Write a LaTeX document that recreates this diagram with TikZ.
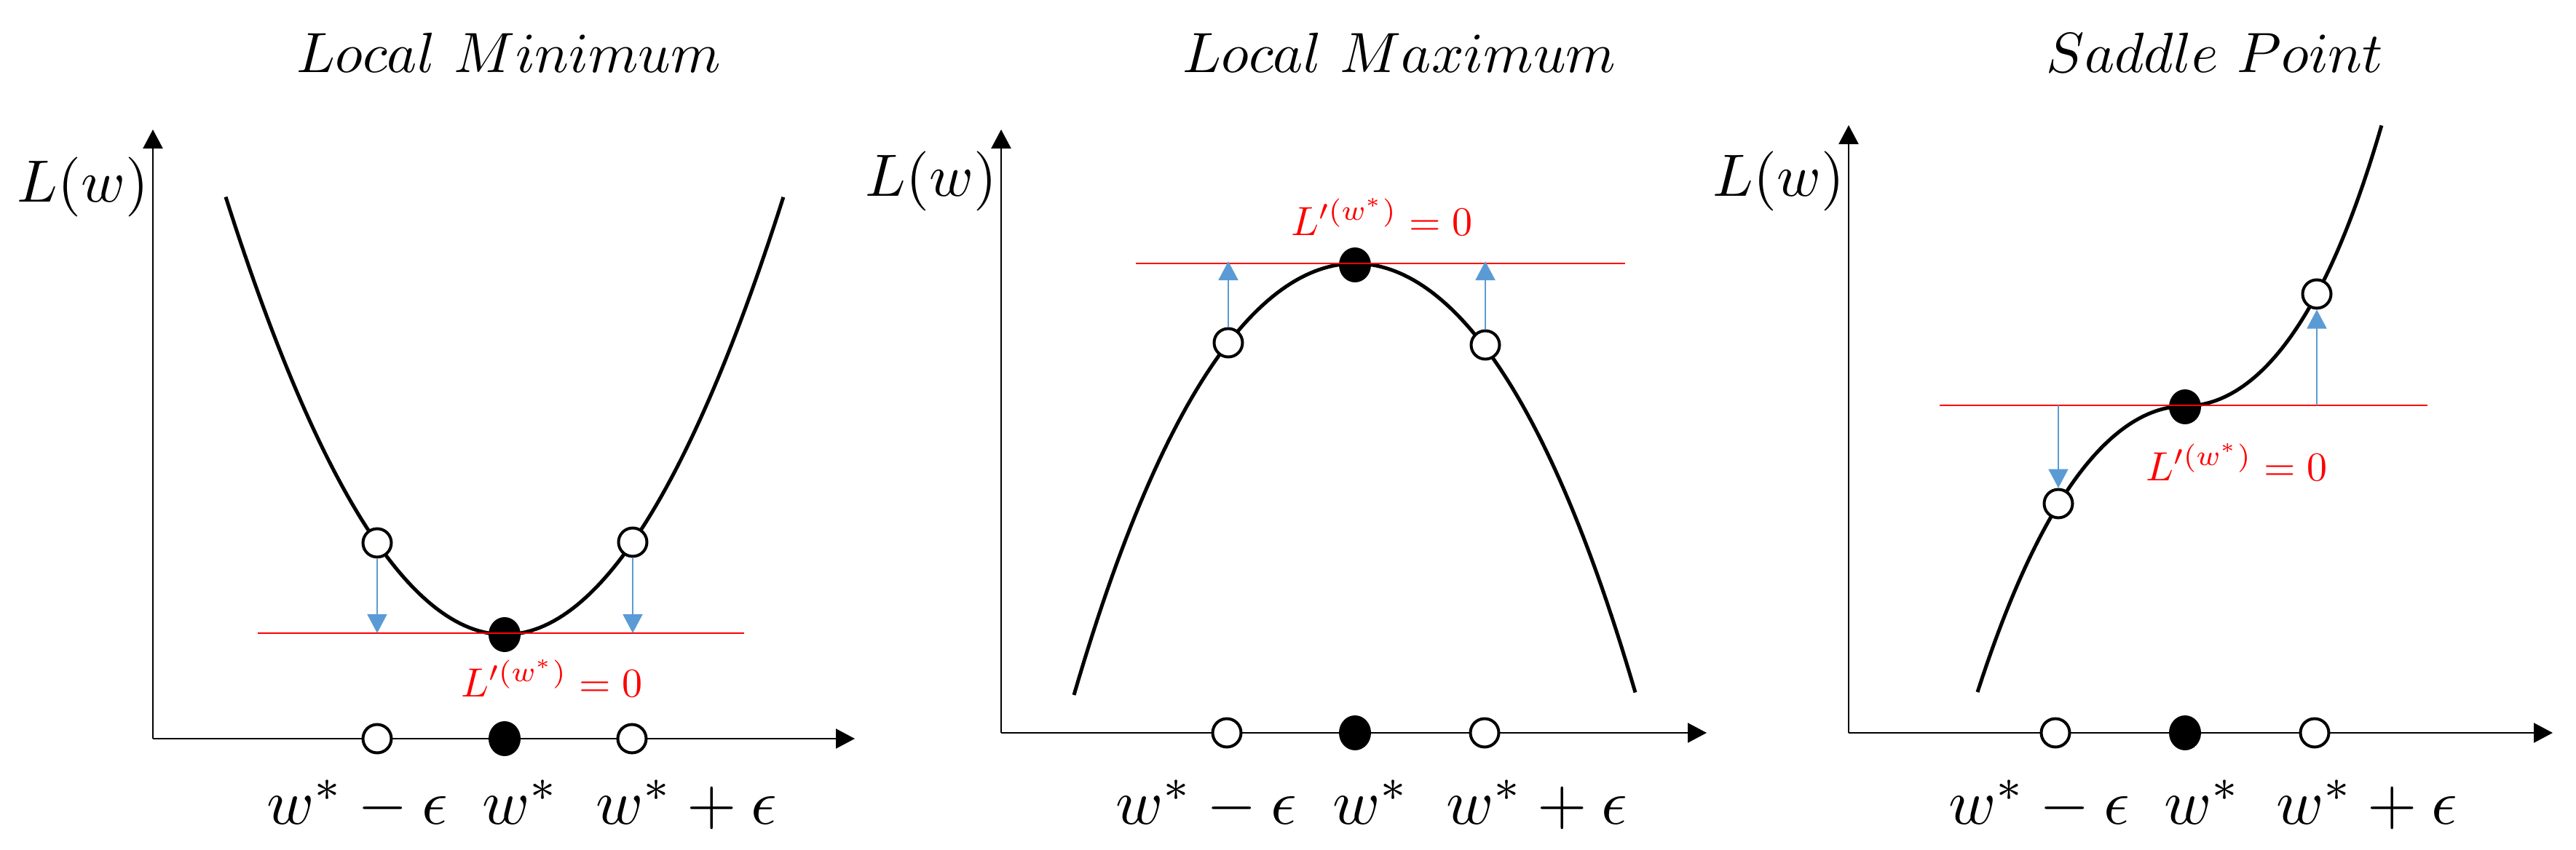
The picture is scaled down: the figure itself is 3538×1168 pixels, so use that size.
\documentclass[tikz,border=0pt]{standalone}
\usepackage{graphicx}
\usetikzlibrary{arrows.meta,shapes.geometric}
\definecolor{lossred}{HTML}{FF0000}
\definecolor{stepblue}{HTML}{5B9BD5}
\newcommand{\titletxt}[1]{\scalebox{1.95}{$#1$}}
\newcommand{\ytxt}[1]{\scalebox{2.05}{$#1$}}
\newcommand{\xtxt}[1]{\scalebox{2.2}{$#1$}}
\newcommand{\dtxt}[1]{\scalebox{1.4}{$#1$}}
\begin{document}
\begin{tikzpicture}[x=0.25pt,y=-0.25pt,
  axisline/.style={line width=0.6pt, -{Triangle[length=6.5pt,width=6.75pt]}},
  losscurve/.style={line width=1.25pt, line join=round},
  opendot/.style={circle, draw, line width=1pt, fill=white, minimum size=9.75pt, inner sep=0pt},
  fulldot/.style={ellipse, fill=black, minimum width=11pt, minimum height=12pt, inner sep=0pt},
  tangent/.style={draw=lossred, line width=0.55pt},
  probe/.style={draw=stepblue, line width=0.5pt, -{Triangle[length=6.5pt,width=6.75pt]}},
  paneltitle/.style={anchor=base, inner sep=0pt},
  ylab/.style={anchor=base east, inner sep=0pt},
  xlab/.style={anchor=base, inner sep=0pt},
  derivlab/.style={text=lossred, anchor=base west, inner sep=0pt}]
\fill[white] (0,0) rectangle (3538,1168);
\useasboundingbox (0,0) rectangle (3538,1168);

% ---------------- Panel 1: Local Minimum ----------------
\coordinate (o1) at (210,1015);
\coordinate (y1) at (210,178);
\coordinate (x1) at (1174,1015);
\draw[axisline] (o1) -- (y1);
\draw[axisline] (o1) -- (x1);
\draw[losscurve] plot[domain=-3.83:3.83, samples=120] ({693+100*\x},{872-41*\x*\x});
\node[opendot] (c1l) at (518,746) {};
\node[opendot] (c1r) at (869,745) {};
\node[fulldot] (m1) at (693,872) {};
\coordinate (t1l) at (354,870);
\coordinate (t1r) at (1022,870);
\draw[tangent] (t1l) -- (t1r);
\coordinate (p1l) at (518,870);
\coordinate (p1r) at (869,870);
\draw[probe] (c1l) -- (p1l);
\draw[probe] (c1r) -- (p1r);
\node[opendot] (e1l) at (518,1015) {};
\node[fulldot] (e1m) at (693,1015) {};
\node[opendot] (e1r) at (868,1015) {};
\node[paneltitle] (h1) at (699,99) {\titletxt{Local\ Minimum}};
\node[ylab] (l1) at (205,277) {\ytxt{L(w)}};
\node[derivlab] (d1) at (633,957) {\dtxt{L'^{(w^*)}=0}};
\node[xlab] (s1a) at (491,1132) {\xtxt{w^*-\epsilon}};
\node[xlab] (s1b) at (715,1132) {\xtxt{w^*}};
\node[xlab] (s1c) at (943,1132) {\xtxt{w^*+\epsilon}};

% ---------------- Panel 2: Local Maximum ----------------
\coordinate (o2) at (1375,1007);
\coordinate (y2) at (1375,178);
\coordinate (x2) at (2344,1007);
\draw[axisline] (o2) -- (y2);
\draw[axisline] (o2) -- (x2);
\draw[losscurve] plot[domain=-3.86:3.85, samples=120] ({1861+100*\x},{362+35.15*\x*\x+0.312*\x*\x*\x*\x});
\node[opendot] (c2l) at (1687,471) {};
\node[opendot] (c2r) at (2040,474) {};
\node[fulldot] (m2) at (1861,364) {};
\coordinate (t2l) at (1560,362);
\coordinate (t2r) at (2232,362);
\draw[tangent] (t2l) -- (t2r);
\coordinate (p2l) at (1687,359);
\coordinate (p2r) at (2040,359);
\draw[probe] (c2l) -- (p2l);
\draw[probe] (c2r) -- (p2r);
\node[opendot] (e2l) at (1685,1007) {};
\node[fulldot] (e2m) at (1861,1007) {};
\node[opendot] (e2r) at (2039,1007) {};
\node[paneltitle] (h2) at (1922,99) {\titletxt{Local\ Maximum}};
\node[ylab] (l2) at (1370,269) {\ytxt{L(w)}};
\node[derivlab] (d2) at (1773,323) {\dtxt{L'^{(w^*)}=0}};
\node[xlab] (s2a) at (1657,1132) {\xtxt{w^*-\epsilon}};
\node[xlab] (s2b) at (1883,1132) {\xtxt{w^*}};
\node[xlab] (s2c) at (2111,1132) {\xtxt{w^*+\epsilon}};

% ---------------- Panel 3: Saddle Point ----------------
\coordinate (o3) at (2539,1007);
\coordinate (y3) at (2539,172);
\coordinate (x3) at (3506,1007);
\draw[axisline] (o3) -- (y3);
\draw[axisline] (o3) -- (x3);
\draw[losscurve] plot[domain=-2.85:0, samples=80] ({3001+100*\x},{558+42.46*\x*\x+0.73*\x*\x*\x*\x})
  -- plot[domain=0:2.70, samples=80] ({3001+100*\x},{558-42.15*\x*\x-1.48*\x*\x*\x*\x});
\node[opendot] (c3l) at (2827,692) {};
\node[opendot] (c3r) at (3182,404) {};
\node[fulldot] (m3) at (3001,559) {};
\coordinate (t3l) at (2664,557);
\coordinate (t3r) at (3334,557);
\draw[tangent] (t3l) -- (t3r);
\coordinate (p3l) at (2827,557);
\coordinate (p3r) at (3182,557);
\draw[probe] (p3l) -- (c3l);
\draw[probe] (p3r) -- (c3r);
\node[opendot] (e3l) at (2823,1007) {};
\node[fulldot] (e3m) at (3001,1007) {};
\node[opendot] (e3r) at (3179,1007) {};
\node[paneltitle] (h3) at (3042,99) {\titletxt{Saddle\ Point}};
\node[ylab] (l3) at (2534,269) {\ytxt{L(w)}};
\node[derivlab] (d3) at (2947,660) {\dtxt{L'^{(w^*)}=0}};
\node[xlab] (s3a) at (2801,1132) {\xtxt{w^*-\epsilon}};
\node[xlab] (s3b) at (3025,1132) {\xtxt{w^*}};
\node[xlab] (s3c) at (3251,1132) {\xtxt{w^*+\epsilon}};
\end{tikzpicture}
\end{document}
